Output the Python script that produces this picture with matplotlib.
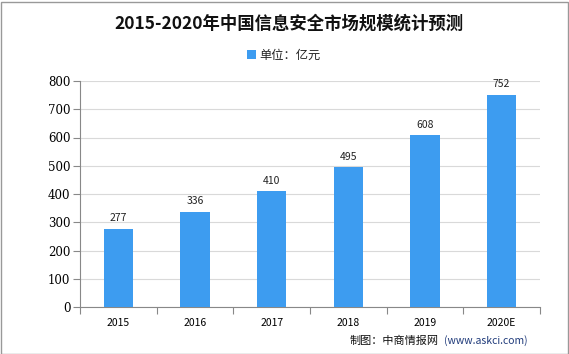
import matplotlib
matplotlib.use("Agg")
import matplotlib.pyplot as plt
from matplotlib.patches import Rectangle

plt.rcParams['font.family'] = ['Noto Sans CJK SC', 'DejaVu Sans']

categories = ["2015", "2016", "2017", "2018", "2019", "2020E"]
values = [277, 336, 410, 495, 608, 752]
yticks = [0, 100, 200, 300, 400, 500, 600, 700, 800]

bar_color = "#3D9CF0"

fig = plt.figure(figsize=(5.69, 3.54), dpi=100)
ax = fig.add_axes([80/569, 1-307/354, 460/569, 226/354])

x = range(len(categories))
bars = ax.bar(x, values, width=0.38, color=bar_color, zorder=3)
for xi, v in zip(x, values):
    ax.text(xi, v + 20, str(v), ha='center', va='bottom', fontsize=7.5, color='#222222')

ax.set_xlim(-0.5, len(categories) - 0.5)
ax.set_ylim(0, 800)
ax.set_yticks(yticks)
ax.set_yticklabels([str(t) for t in yticks], fontsize=8.5, family='DejaVu Serif')
ax.set_xticks([i - 0.5 for i in range(len(categories) + 1)])
ax.set_xticklabels([])
ax.set_xticks(list(x), minor=True)
ax.set_xticklabels(categories, minor=True, fontsize=7.5)
ax.tick_params(axis='x', which='minor', length=0, pad=8)
ax.tick_params(axis='x', which='major', length=5, color='#888888', direction='out')
ax.tick_params(axis='y', length=5, color='#888888', pad=2)
ax.grid(axis='y', color='#d9d9d9', linewidth=0.8, zorder=0)
for s in ['top', 'right']:
    ax.spines[s].set_visible(False)
ax.spines['left'].set_color('#888888')
ax.spines['bottom'].set_color('#888888')

fig.text(289/569, 1-24/354, "2015-2020年中国信息安全市场规模统计预测", ha='center', va='center',
         fontsize=12.5, fontweight='bold', color='#111111')
fig.patches.append(Rectangle((247/569, 1-59/354), 9/569, 9/354, transform=fig.transFigure,
                             facecolor=bar_color, edgecolor='none'))
fig.text(259/569, 1-55/354, "单位：亿元", ha='left', va='center', fontsize=8.8, color='#222222')

fig.text(350/569, 1-341/354, "制图：中商情报网", ha='left', va='center', fontsize=8, color='#111111')
fig.text(444/569, 1-341/354, "(www.askci.com)", ha='left', va='center', fontsize=7.5, color='#1f3a7a')

fig.patches.append(Rectangle((0.5/569, 0.5/354), 567/569, 352/354, transform=fig.transFigure,
                             facecolor='none', edgecolor='#999999', linewidth=1))

fig.savefig("out.png", dpi=100)
